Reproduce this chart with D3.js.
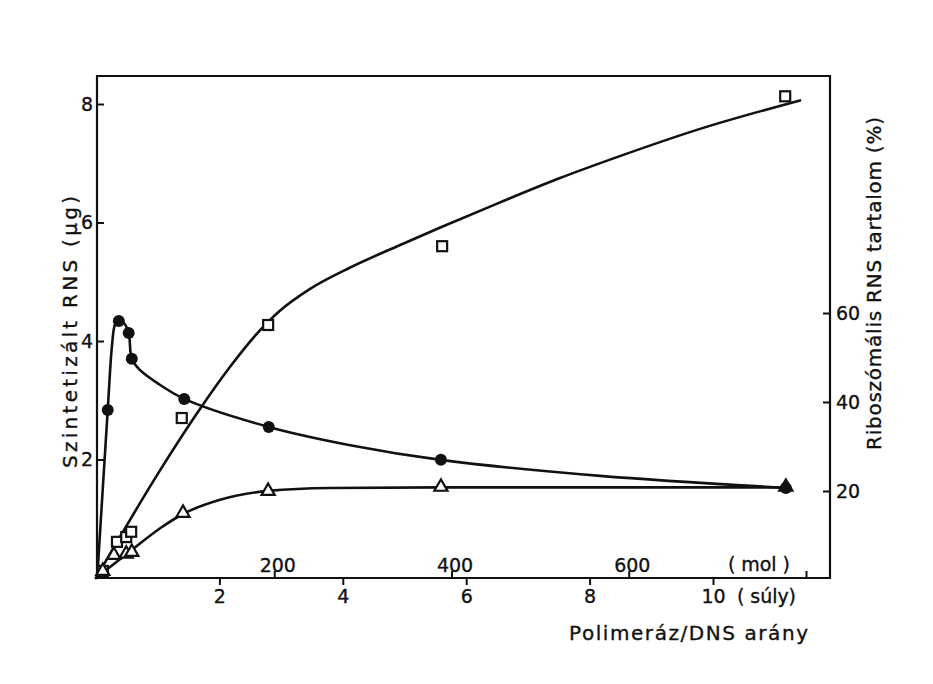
<!DOCTYPE html>
<html>
<head>
<meta charset="utf-8">
<script src="https://cdn.jsdelivr.net/npm/d3@7"></script>
<style>
  html, body { margin: 0; padding: 0; background: #fff; }
  svg text { font-family: "DejaVu Sans", "Liberation Sans", sans-serif; fill: #111; stroke: #111; stroke-width: 0.35px; }
</style>
</head>
<body>
<svg id="chart" width="933" height="684"></svg>
<script>
// Polimeráz/DNS arány (súly) for the measured samples
const ratio = [0.11, 0.34, 0.49, 0.57, 1.39, 2.79, 5.61, 11.17];
// Szintetizált RNS (µg) – open squares
const totalRNS = [0.12, 0.61, 0.69, 0.78, 2.70, 4.27, 5.60, 8.13];
// Riboszómális RNS (µg) – open triangles
const riboRatio = [0.11, 0.29, 0.49, 0.58, 1.41, 2.79, 5.59, 11.18];
const riboRNS = [0.10, 0.37, 0.39, 0.42, 1.08, 1.45, 1.52, 1.52];
// Riboszómális RNS tartalom (%) – filled circles
const contentRatio = [0.19, 0.37, 0.53, 0.58, 1.43, 2.80, 5.59, 11.18];
const contentPct = [38.2, 58.2, 55.5, 49.7, 40.7, 34.4, 27.0, 20.7];

// hand-fitted curves drawn through the measurements
const fitTotalX = [0, 1.04, 1.69, 2.17, 2.58, 2.98, 3.47, 4.12, 4.93, 5.59, 6.55, 7.52, 8.49, 9.79, 11.41];
const fitTotalY = [0, 1.82, 2.86, 3.56, 4.09, 4.51, 4.88, 5.24, 5.62, 5.92, 6.34, 6.75, 7.12, 7.58, 8.06];
const fitRiboX = [0, 0.60, 1.04, 1.41, 2.01, 2.79, 3.79, 5.59, 8.17, 11.18];
const fitRiboY = [0, 0.49, 0.84, 1.08, 1.32, 1.47, 1.52, 1.53, 1.53, 1.53];
const fitPctX = [0.02, 0.19, 0.26, 0.31, 0.37, 0.45, 0.53, 0.58, 0.71, 0.99, 1.43, 2.80, 4.12, 5.59, 8.17, 11.18];
const fitPctY = [0.5, 38.2, 52.8, 57.5, 58.4, 57.8, 55.5, 49.7, 47.2, 44.3, 40.7, 34.4, 30.3, 27.0, 23.4, 20.7];

// axis ticks
const weightTicks = [2, 4, 6, 8, 10];
const molTicks = [200, 400, 600, 800];
const molLabels = ["200", "400", "600", ""];
const leftTicks = [2, 4, 6, 8];
const rightTicks = [20, 40, 60];

const svg = d3.select("#chart");
const plotLeft = 97, plotRight = 830, plotTop = 76, plotBottom = 578;

const xW = d3.scaleLinear().domain([0, 10]).range([96, 713]);
const xMol = d3.scaleLinear().domain([0, 800]).range([97, 806]);
const yL = d3.scaleLinear().domain([0, 8]).range([plotBottom, 104]);
const yR = d3.scaleLinear().domain([0, 60]).range([580, 313]);

const ink = "#111";
const fontSize = 19;

// frame
svg.append("path")
  .attr("d", `M${plotLeft},${plotBottom} L${plotLeft},${plotTop} L${plotRight},${plotTop} L${plotRight},${plotBottom} Z`)
  .attr("fill", "none").attr("stroke", ink).attr("stroke-width", 2.2);

// left axis (µg)
const gL = svg.append("g").attr("transform", `translate(${plotLeft},0)`)
  .call(d3.axisLeft(yL).tickValues(leftTicks).tickSizeInner(-7).tickSizeOuter(0).tickPadding(4).tickFormat(d3.format("d")));
// right axis (%)
const gR = svg.append("g").attr("transform", `translate(${plotRight},0)`)
  .call(d3.axisRight(yR).tickValues(rightTicks).tickSizeInner(-7).tickSizeOuter(0).tickPadding(6).tickFormat(d3.format("d")));
// bottom axis: weight ratio below, molar ratio above
const gW = svg.append("g").attr("transform", `translate(0,${plotBottom})`)
  .call(d3.axisBottom(xW).tickValues(weightTicks).tickSize(7).tickPadding(5).tickFormat(d3.format("d")));
const gM = svg.append("g").attr("transform", `translate(0,${plotBottom})`)
  .call(d3.axisTop(xMol).tickValues(molTicks).tickSize(7).tickPadding(-1).tickFormat((d, i) => molLabels[i]));

[gL, gR, gW, gM].forEach(g => {
  g.select(".domain").remove();
  g.selectAll(".tick line").attr("stroke", ink).attr("stroke-width", 2);
  g.selectAll(".tick text").attr("font-size", fontSize).attr("fill", ink)
    .style("font-family", "'DejaVu Sans', 'Liberation Sans', sans-serif");
});
gM.selectAll(".tick text").attr("dx", 3);

// extra axis annotations
svg.append("text").attr("x", 737).attr("y", 603).attr("font-size", fontSize)
  .attr("textLength", 59).attr("lengthAdjust", "spacing").text("( súly)");
svg.append("text").attr("x", 728).attr("y", 571).attr("font-size", fontSize)
  .attr("textLength", 62).attr("lengthAdjust", "spacing").text("( mol )");
svg.append("text").attr("x", 569).attr("y", 640).attr("font-size", 20)
  .attr("textLength", 239).attr("lengthAdjust", "spacing").text("Polimeráz/DNS arány");

// axis titles
svg.append("text").attr("transform", "translate(77,468) rotate(-90)")
  .attr("font-size", 20).attr("textLength", 272).attr("lengthAdjust", "spacing")
  .text("Szintetizált RNS (µg)");
svg.append("text").attr("transform", "translate(881,450) rotate(-90)")
  .attr("font-size", 20).attr("textLength", 333).attr("lengthAdjust", "spacing")
  .text("Riboszómális RNS tartalom (%)");

// fitted curves
function curve(xs, ys, yScale, gen) {
  const pts = xs.map((x, i) => [xW(x), yScale(ys[i])]);
  svg.append("path").attr("d", d3.line().curve(gen)(pts))
    .attr("fill", "none").attr("stroke", ink).attr("stroke-width", 2.6)
    .attr("stroke-linejoin", "round").attr("stroke-linecap", "round");
}
curve(fitTotalX, fitTotalY, yL, d3.curveMonotoneX);
curve(fitRiboX, fitRiboY, yL, d3.curveMonotoneX);
curve(fitPctX, fitPctY, yR, d3.curveCatmullRom.alpha(0.5));

// markers
const sq = 10;
svg.append("g").selectAll("rect").data(ratio).join("rect")
  .attr("x", (d) => xW(d) - sq / 2)
  .attr("y", (d, i) => yL(totalRNS[i]) - sq / 2)
  .attr("width", sq).attr("height", sq)
  .attr("fill", "#fff").attr("stroke", ink).attr("stroke-width", 2.2);

const tri = d3.symbol().type(d3.symbolTriangle).size(75);
svg.append("g").selectAll("path").data(riboRatio).join("path")
  .attr("d", tri)
  .attr("transform", (d, i) => `translate(${xW(d)},${yL(riboRNS[i]) - 1})`)
  .attr("fill", "#fff").attr("stroke", ink).attr("stroke-width", 2.2);

svg.append("g").selectAll("circle").data(contentRatio).join("circle")
  .attr("cx", (d) => xW(d))
  .attr("cy", (d, i) => yR(contentPct[i]))
  .attr("r", 6).attr("fill", ink);
</script>
</body>
</html>
